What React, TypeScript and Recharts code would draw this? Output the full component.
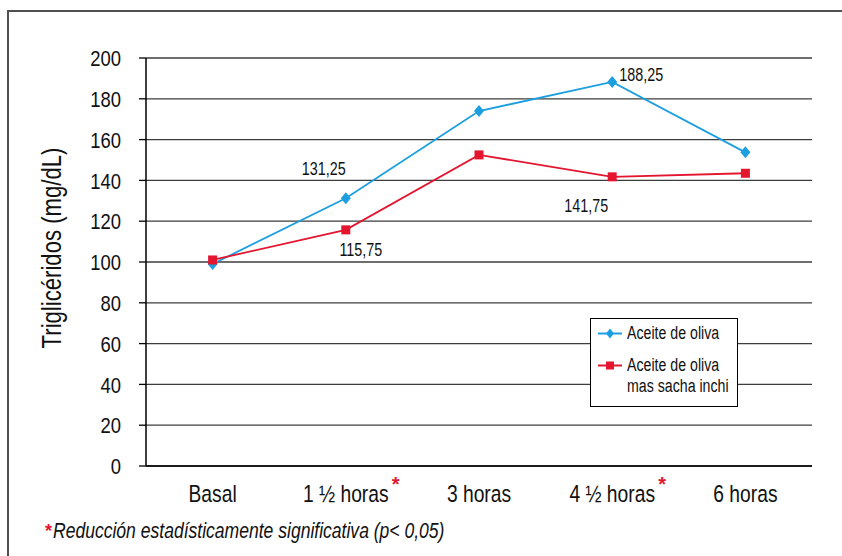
import React from 'react';
import { LineChart, Line, XAxis, YAxis, CartesianGrid, Legend, LabelList } from 'recharts';

// ---- data ----
const categories = ['Basal', '1 ½ horas', '3 horas', '4 ½ horas', '6 horas'];
const significant = [false, true, false, true, false];
const olivaValues = [99, 131.25, 174, 188.25, 153.75];
const sachaValues = [101, 115.75, 152.5, 141.75, 143.5];
const olivaLabels = ['', '131,25', '', '188,25', ''];
const sachaLabels = ['', '115,75', '', '141,75', ''];
const yTicks = [0, 20, 40, 60, 80, 100, 120, 140, 160, 180, 200];
const boundaryTicks = [0, 1, 2, 3, 4, 5];
const seriesNames = ['Aceite de oliva', 'Aceite de oliva\nmas sacha inchi'];
const yTitle = 'Triglicéridos (mg/dL)';
const footnote = 'Reducción estadísticamente significativa (p< 0,05)';

const data = categories.map((c, i) => ({
  cat: c,
  oliva: olivaValues[i],
  sacha: sachaValues[i],
  olivaLabel: olivaLabels[i],
  sachaLabel: sachaLabels[i],
}));

const FONT = "'Liberation Sans', Arial, sans-serif";
const NARROW = 0.82; // emulate a condensed (Arial Narrow-like) face
const BLUE = '#1b9fe0';
const RED = '#e3152f';

const olivaOffsets: [number, number][] = [[0, 0], [-22, -29], [0, 0], [29, -7], [0, 0]];
const sachaOffsets: [number, number][] = [[0, 0], [15, 20], [0, 0], [-26, 29], [0, 0]];

const makeLabel = (offsets: [number, number][]) => (props: any) => {
  const { x, y, value, index } = props;
  if (!value) return null;
  const [dx, dy] = offsets[index] || [0, 0];
  return (
    <text transform={`translate(${x + dx},${y + dy}) scale(${NARROW},1)`} x={0} y={0}
      textAnchor="middle" dominantBaseline="central" fontFamily={FONT} fontSize={17.5} fill="#111">{value}</text>
  );
};

const Diamond = (props: any) => {
  const { cx, cy } = props;
  if (cx == null || cy == null) return null;
  return <path d={`M${cx},${cy - 6}L${cx + 5},${cy}L${cx},${cy + 6}L${cx - 5},${cy}Z`} fill={BLUE} />;
};

const Square = (props: any) => {
  const { cx, cy } = props;
  if (cx == null || cy == null) return null;
  return <rect x={cx - 4.5} y={cy - 4.5} width={9} height={9} fill={RED} />;
};

const XTick = (props: any) => {
  const { x, y, payload } = props;
  const i = categories.indexOf(payload.value);
  return (
    <g>
      <text transform={`translate(${x},${y}) scale(${NARROW},1)`} x={0} y={0} dy="0.71em"
        textAnchor="middle" fontFamily={FONT} fontSize={23.5} fill="#111">
        {payload.value}
      </text>
      {significant[i] && (
        <text x={x + 46} y={y + 6} textAnchor="start" fontFamily={FONT}
          fontWeight="bold" fontSize={20} fill={RED}>*</text>
      )}
    </g>
  );
};

const YTick = (props: any) => {
  const { x, y, payload } = props;
  return (
    <text transform={`translate(${x},${y}) scale(${NARROW},1)`} x={0} y={0}
      textAnchor="end" dominantBaseline="central" fontFamily={FONT} fontSize={22.5} fill="#111">
      {payload.value}
    </text>
  );
};

const YTitle = (props: any) => {
  const vb = props.viewBox || { x: 0, y: 58, width: 146, height: 408 };
  const cx = vb.x + vb.width / 2 - 21;
  const cy = vb.y + vb.height / 2 - 14;
  return (
    <text transform={`translate(${cx},${cy}) rotate(-90) scale(${NARROW},1)`} x={0} y={0}
      textAnchor="middle" dominantBaseline="central" fontFamily={FONT} fontSize={27} fill="#111">
      {yTitle}
    </text>
  );
};

const narrowSpan: React.CSSProperties = {
  display: 'inline-block', transform: `scaleX(${NARROW})`, transformOrigin: '0 0', whiteSpace: 'pre',
};

const LegendBox = () => (
  <div style={{
    border: '1px solid #000', background: '#fff', width: 148, height: 89, boxSizing: 'border-box',
    padding: '4px 4px 0 5px', fontFamily: FONT, fontSize: 18, color: '#111', overflow: 'hidden',
  }}>
    {seriesNames.map((name, i) => (
      <div key={name} style={{ display: 'flex', alignItems: 'flex-start', marginBottom: i === 0 ? 11 : 0 }}>
        <svg width={31} height={21} style={{ flex: 'none' }}>
          <line x1={2} y1={10.5} x2={26} y2={10.5} stroke={i === 0 ? BLUE : RED} strokeWidth={2} />
          {i === 0
            ? <path d="M14,5.5L18,10.5L14,15.5L10,10.5Z" fill={BLUE} />
            : <rect x={10} y={6.5} width={8} height={8} fill={RED} />}
        </svg>
        <span style={{ ...narrowSpan, lineHeight: '21px', transform: `scaleX(${NARROW * 0.96})` }}>{name}</span>
      </div>
    ))}
  </div>
);

export default function App() {
  return (
    <div style={{ position: 'absolute', left: 0, top: 0, width: 842, height: 556, overflow: 'hidden', background: '#fff' }}>
      <div style={{
        position: 'absolute', left: 7, top: 10, width: 900, height: 600,
        borderLeft: '2px solid #505050', borderTop: '2px solid #505050',
      }} />
      <div style={{ position: 'absolute', left: 0, top: 0 }}>
        <LineChart width={842} height={556} data={data} margin={{ top: 58, right: 30, left: 0, bottom: 0 }}>
          <CartesianGrid vertical={false} stroke="#3c3c3c" strokeWidth={1.3} />
          <XAxis xAxisId="bounds" type="number" domain={[0, 5]} ticks={boundaryTicks} allowDataOverflow
            height={0} tick={false} tickSize={9} axisLine={false}
            tickLine={{ stroke: '#000', strokeWidth: 1.3 }} />
          <XAxis dataKey="cat" scale="band" height={90} tickLine={false} tickSize={9} tickMargin={10}
            axisLine={{ stroke: '#000', strokeWidth: 1.5 }} tick={<XTick />} interval={0} />
          <YAxis domain={[0, 200]} ticks={yTicks} width={146} tickSize={7} tickMargin={18}
            axisLine={{ stroke: '#000', strokeWidth: 1.5 }} tickLine={{ stroke: '#000', strokeWidth: 1.3 }}
            tick={<YTick />}
            label={{ position: 'center', content: <YTitle /> }} />
          <YAxis yAxisId="right" orientation="right" width={0} domain={[0, 200]} tick={false} tickLine={false}
            axisLine={{ stroke: '#000', strokeWidth: 2.5 }} />
          <Legend layout="vertical" align="center" verticalAlign="middle" content={<LegendBox />}
            wrapperStyle={{ left: 590, top: 318, width: 148 }} />
          <Line dataKey="oliva" name={seriesNames[0]} stroke={BLUE} strokeWidth={1.8}
            dot={<Diamond />} activeDot={false} isAnimationActive={false}>
            <LabelList dataKey="olivaLabel" content={makeLabel(olivaOffsets)} />
          </Line>
          <Line dataKey="sacha" name={seriesNames[1]} stroke={RED} strokeWidth={1.8}
            dot={<Square />} activeDot={false} isAnimationActive={false}>
            <LabelList dataKey="sachaLabel" content={makeLabel(sachaOffsets)} />
          </Line>
        </LineChart>
      </div>
      <div style={{ position: 'absolute', left: 45, top: 519, fontFamily: FONT, fontSize: 21.4, color: '#111', whiteSpace: 'nowrap', lineHeight: '24px' }}>
        <span style={{ color: RED, fontWeight: 'bold', fontSize: 18, display: 'inline-block', width: 8, verticalAlign: 'top' }}>*</span>
        <span style={{ ...narrowSpan, fontStyle: 'italic' }}>{footnote}</span>
      </div>
    </div>
  );
}
